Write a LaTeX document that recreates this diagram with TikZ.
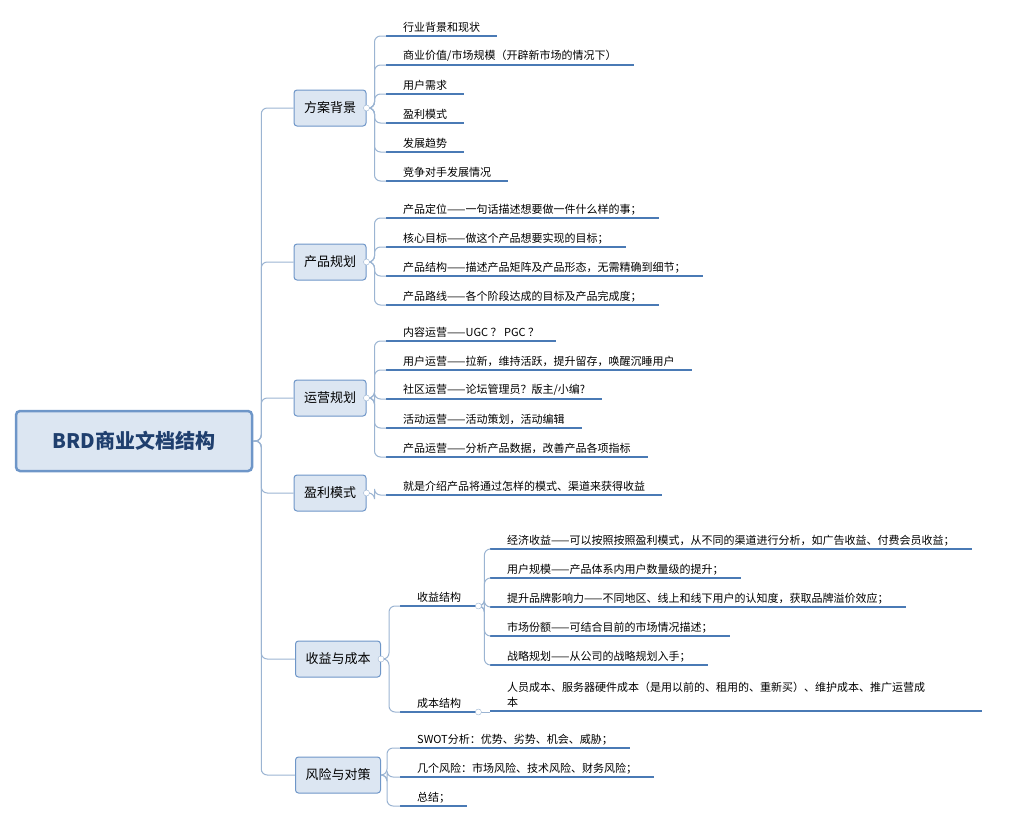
\documentclass[tikz,border=0pt]{standalone}
\usepackage{fontspec}
\setmainfont{Noto Sans CJK SC}
\usetikzlibrary{positioning}
\definecolor{boxfill}{HTML}{DCE6F2}
\definecolor{boxline}{HTML}{6E96C8}
\definecolor{uline}{HTML}{4A7AB5}
\definecolor{conn}{HTML}{9BB4D2}
\definecolor{rootText}{HTML}{1F3F6E}
\begin{document}
\begin{tikzpicture}[x={(1pt,0)}, y={(0,-1pt)},
    rootbox/.style={draw=boxline, line width=2.5pt, fill=boxfill, rounded corners=4pt, minimum width=236pt, minimum height=60pt, font=\fontsize{20}{24}\selectfont\bfseries, text=rootText},
    topicbox/.style={draw=boxline, line width=1pt, fill=boxfill, rounded corners=3pt, minimum height=36pt, inner xsep=10pt, font=\fontsize{13}{16}\selectfont},
    leaf/.style={anchor=south west, inner xsep=17pt, inner ysep=3pt, font=\fontsize{11}{15}\selectfont},
    uln/.style={draw=uline, line width=1.4pt},
    link/.style={draw=conn, line width=1pt, rounded corners=6pt},
    knob/.style={draw=conn, fill=white, circle, inner sep=0pt, minimum size=6pt},
  ]
    \useasboundingbox (0,0) rectangle (1015,827);

    %root and topics
    \node[rootbox] (root) at (134,441) {BRD商业文档结构};
    \node[topicbox] (fa) at (330,108) {方案背景};
    \node[topicbox] (cp) at (330,262) {产品规划};
    \node[topicbox] (yy) at (330,398) {运营规划};
    \node[topicbox] (yl) at (330,493) {盈利模式};
    \node[topicbox] (sy) at (338,659) {收益与成本};
    \node[topicbox] (fx) at (338,775) {风险与对策};

    \foreach \t in {fa,cp,yy,yl,sy,fx}
      \draw[link] (root.east) -- ++(8,0) |- (\t.west);

    %leaves: name/x/y/text
    \foreach \p/\n/\y/\s in {
        fa/a1/36/行业背景和现状,
        fa/a2/65/{商业价值/市场规模（开辟新市场的情况下）},
        fa/a3/94/用户需求,
        fa/a4/123/盈利模式,
        fa/a5/152/发展趋势,
        fa/a6/181/竞争对手发展情况,
        cp/b1/218/产品定位——一句话描述想要做一件什么样的事；,
        cp/b2/247/核心目标——做这个产品想要实现的目标；,
        cp/b3/276/{产品结构——描述产品矩阵及产品形态，无需精确到细节；},
        cp/b4/305/产品路线——各个阶段达成的目标及产品完成度；,
        yy/c1/341/内容运营——UGC ？ PGC ？,
        yy/c2/370/{用户运营——拉新，维持活跃，提升留存，唤醒沉睡用户},
        yy/c3/399/{社区运营——论坛管理员？版主/小编?},
        yy/c4/428/{活动运营——活动策划，活动编辑},
        yy/c5/457/{产品运营——分析产品数据，改善产品各项指标},
        yl/d1/495/就是介绍产品将通过怎样的模式、渠道来获得收益}
    {
      \node[leaf] (\n) at (386,\y) {\s};
      \draw[uln] (\n.south west) -- (\n.south east);
      \draw[link] (\p.east) -- ++(8,0) |- (\n.south west);
    }
    \foreach \t in {fa,cp,yy,yl}
      \node[knob] at (\t.east) {};

    %income and cost
    \node[leaf] (e1) at (400,606) {收益结构\hspace{12pt}};
    \node[leaf] (e2) at (400,712) {成本结构\hspace{12pt}};
    \foreach \n in {e1,e2} {
      \draw[uln] (\n.south west) -- (\n.south east);
      \draw[link] (sy.east) -- ++(8,0) |- (\n.south west);
    }
    \node[knob] at (sy.east) {};

    \foreach \n/\y/\s in {
        f1/549/{经济收益——可以按照按照盈利模式，从不同的渠道进行分析，如广告收益、付费会员收益；},
        f2/578/用户规模——产品体系内用户数量级的提升；,
        f3/607/{提升品牌影响力——不同地区、线上和线下用户的认知度，获取品牌溢价效应；},
        f4/636/市场份额——可结合目前的市场情况描述；,
        f5/665/战略规划——从公司的战略规划入手；}
    {
      \node[leaf] (\n) at (490,\y) {\s};
      \draw[uln] (\n.south west) -- (\n.south east);
      \draw[link] (e1.south east) -- ++(6,0) |- (\n.south west);
    }
    \node[knob] at (e1.south east) {};

    \node[leaf, text width=458pt, align=left] (g1) at (490,711)
      {人员成本、服务器硬件成本（是用以前的、租用的、重新买）、维护成本、推广运营成\\本};
    \draw[uln] (g1.south west) -- (g1.south east);
    \draw[link] (e2.south east) -- (g1.south west |- e2.south east);
    \node[knob] at (e2.south east) {};

    %risks
    \foreach \n/\y/\s in {
        h1/748/SWOT分析：优势、劣势、机会、威胁；,
        h2/777/几个风险：市场风险、技术风险、财务风险；,
        h3/806/总结；}
    {
      \node[leaf] (\n) at (400,\y) {\s};
      \draw[uln] (\n.south west) -- (\n.south east);
      \draw[link] (fx.east) -- ++(6,0) |- (\n.south west);
    }
\end{tikzpicture}
\end{document}
